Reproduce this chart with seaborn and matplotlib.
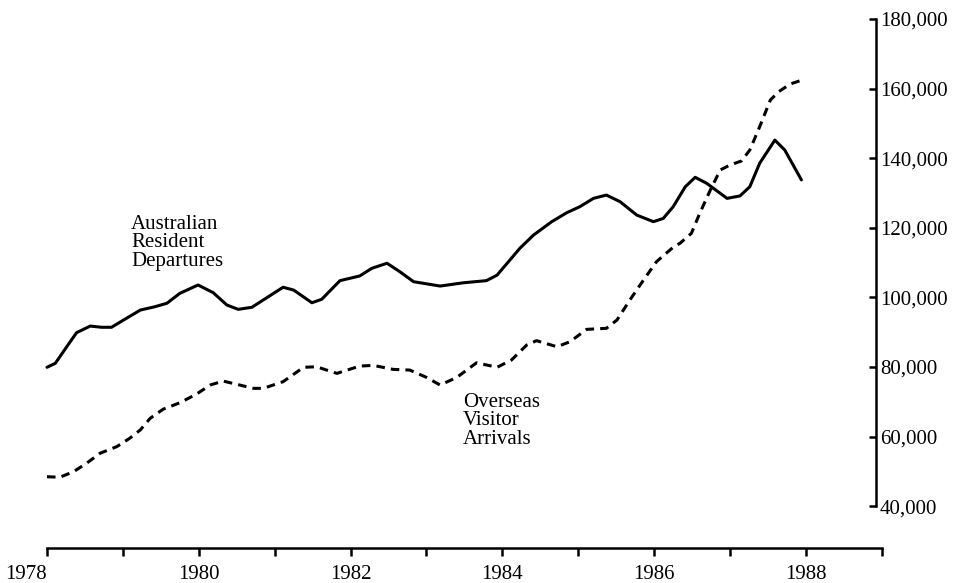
import numpy as np
import pandas as pd
import matplotlib
matplotlib.use("Agg")
import matplotlib.pyplot as plt
import seaborn as sns

# Australian resident departures (solid line)
dep_year = [1978.00, 1978.11, 1978.26, 1978.39, 1978.57, 1978.72, 1978.85, 1979.01,
            1979.23, 1979.42, 1979.58, 1979.75, 1979.99, 1980.19, 1980.37, 1980.52,
            1980.70, 1980.85, 1981.11, 1981.25, 1981.49, 1981.62, 1981.86, 1982.12,
            1982.28, 1982.48, 1982.65, 1982.83, 1983.18, 1983.49, 1983.79, 1983.93,
            1984.10, 1984.23, 1984.41, 1984.65, 1984.85, 1985.02, 1985.20, 1985.37,
            1985.55, 1985.77, 1985.99, 1986.12, 1986.25, 1986.41, 1986.54, 1986.69,
            1986.96, 1987.13, 1987.26, 1987.39, 1987.59, 1987.72, 1987.94]
dep_value = [79900, 81050, 85800, 89850, 91750, 91400, 91400, 93500,
             96350, 97300, 98300, 101150, 103550, 101350, 97800, 96550,
             97150, 99250, 102900, 102100, 98450, 99450, 104800, 106150,
             108350, 109800, 107350, 104500, 103250, 104200, 104800, 106400,
             110750, 114100, 117900, 121750, 124350, 126050, 128450, 129400,
             127500, 123650, 121750, 122700, 126050, 131800, 134500, 132800,
             128450, 129150, 131800, 138550, 145200, 142350, 133750]

# Overseas visitor arrivals (dashed line)
arr_year = [1978.00, 1978.17, 1978.35, 1978.52, 1978.70, 1978.92, 1979.09, 1979.23,
            1979.36, 1979.53, 1979.75, 1979.97, 1980.15, 1980.32, 1980.54, 1980.72,
            1980.85, 1981.11, 1981.38, 1981.55, 1981.82, 1982.12, 1982.30, 1982.56,
            1982.78, 1983.00, 1983.18, 1983.40, 1983.66, 1983.93, 1984.12, 1984.32,
            1984.45, 1984.72, 1984.89, 1985.11, 1985.37, 1985.51, 1985.68, 1985.86,
            1986.03, 1986.25, 1986.34, 1986.49, 1986.60, 1986.74, 1986.87, 1987.00,
            1987.15, 1987.26, 1987.39, 1987.53, 1987.64, 1987.79, 1987.92]
arr_value = [48450, 48300, 49900, 52300, 55200, 57100, 59500, 61900,
             65250, 67850, 69700, 72200, 74800, 75950, 74800, 73850,
             73850, 75750, 79900, 80050, 78150, 80250, 80450, 79300,
             79100, 77000, 74800, 77000, 81200, 79900, 82000, 86300,
             87550, 85800, 87250, 90800, 91100, 93500, 99250, 105000,
             110250, 114400, 115550, 118400, 124150, 130850, 136600, 138050,
             139200, 142350, 149050, 156700, 159100, 161300, 162250]

year_ticks = list(range(1978, 1990))
year_labels = [str(y) if y % 2 == 0 else "" for y in year_ticks]
value_ticks = list(range(40000, 180001, 20000))

dep = pd.DataFrame({"Year": dep_year, "Visitors": dep_value})
arr = pd.DataFrame({"Year": arr_year, "Visitors": arr_value})

sns.set_style("white")
plt.rcParams["font.family"] = ["Liberation Serif", "DejaVu Serif"]

fig = plt.figure(figsize=(9.6, 5.83), dpi=100)
ax = fig.add_axes([0, 0, 1, 1])
ax.patch.set_alpha(0)

sns.lineplot(data=dep, x="Year", y="Visitors", ax=ax, color="black", linewidth=2.2,
             solid_joinstyle="round")
sns.lineplot(data=arr, x="Year", y="Visitors", ax=ax, color="black", linewidth=2.2,
             linestyle=(0, (2.8, 2.0)))

ax.set_xlim(1977.381, 1990.029)
ax.set_ylim(17906, 185461)

# axes styling: right value axis, detached bottom year axis
ax.spines["top"].set_visible(False)
ax.spines["left"].set_visible(False)
ax.spines["right"].set_position(("data", 1988.92))
ax.spines["right"].set_bounds(40000, 180000)
ax.spines["bottom"].set_position(("data", 27966))
ax.spines["bottom"].set_bounds(1978, 1989)
for s in ("right", "bottom"):
    ax.spines[s].set_linewidth(1.8)
    ax.spines[s].set_color("black")

ax.yaxis.tick_right()
ax.set_yticks(value_ticks)
ax.set_yticklabels([f"{v:,}" for v in value_ticks], fontsize=15)
ax.tick_params(axis="y", right=True, left=False, direction="in", length=5,
               width=1.8, pad=3, colors="black")

ax.set_xticks(year_ticks)
ax.set_xticklabels(year_labels, fontsize=15)
ax.tick_params(axis="x", bottom=True, direction="out", length=6, width=1.8,
               pad=6, colors="black")
ax.get_xticklabels()[0].set_ha("right")

ax.set_xlabel("")
ax.set_ylabel("")

ax.text(1979.11, 123670, "Australian\nResident\nDepartures", fontsize=15,
        va="top", ha="left", linespacing=0.95, color="black")
ax.text(1983.48, 72510, "Overseas\nVisitor\nArrivals", fontsize=15,
        va="top", ha="left", linespacing=0.95, color="black")

fig.savefig("out.png", dpi=100)
